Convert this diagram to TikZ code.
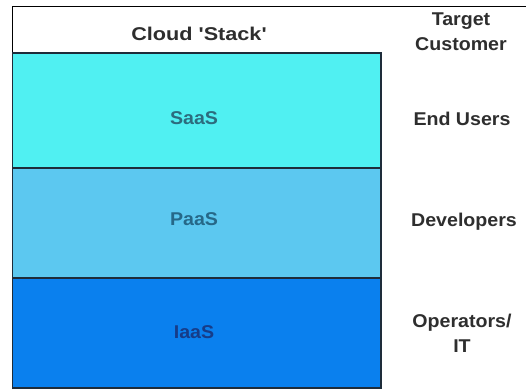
\documentclass[tikz,border=0pt]{standalone}
\usepackage{fontspec}
\usepackage{graphicx}
\setmainfont{Liberation Sans}
\definecolor{saasfill}{HTML}{50F0F2}
\definecolor{paasfill}{HTML}{5CC8F0}
\definecolor{iaasfill}{HTML}{0A80EE}
\definecolor{saastext}{HTML}{2C6C7E}
\definecolor{paastext}{HTML}{266888}
\definecolor{iaastext}{HTML}{163C88}
\definecolor{headtext}{HTML}{2E2E2E}
\definecolor{bandline}{HTML}{1E2C3A}
\newcommand{\widetxt}[2][1.06]{\scalebox{#1}[1]{#2}}
\begin{document}
\begin{tikzpicture}[x=1pt,y=-1pt,
  lbl/.style={anchor=base,inner sep=0pt,font=\fontsize{18.5}{22}\selectfont\bfseries,text=headtext},
  bandtxt/.style={anchor=base,inner sep=0pt,font=\fontsize{18.5}{22}\selectfont\bfseries},
  band/.style={draw=bandline,line width=1.8pt}]
\useasboundingbox (0,0) rectangle (526,389);
\fill[white] (0,0) rectangle (526,389);
% outer frame
\draw[black,line width=1.4pt] (12.5,389) -- (12.5,6.5) -- (526,6.5);
% bands
\fill[saasfill] (12.5,53) rectangle (381,168);
\fill[paasfill] (12.5,168) rectangle (381,278);
\fill[iaasfill] (12.5,278) rectangle (381,388);
\draw[band] (12.5,53) rectangle (381,388);
\draw[band] (12.5,168) -- (381,168);
\draw[band] (12.5,278) -- (381,278);
% texts
\node[lbl] (head) at (199,40) {\widetxt[1.17]{Cloud \textquotesingle Stack\textquotesingle}};
\node[lbl] (tgt1) at (461,25) {\widetxt{Target}};
\node[lbl] (tgt2) at (461,50) {\widetxt{Customer}};
\node[bandtxt,text=saastext] (saas) at (194,124) {\widetxt{SaaS}};
\node[bandtxt,text=paastext] (paas) at (194,225) {\widetxt{PaaS}};
\node[bandtxt,text=iaastext] (iaas) at (194,338) {\widetxt{IaaS}};
\node[lbl] (eu) at (462,125) {\widetxt{End Users}};
\node[lbl] (dev) at (464,226) {\widetxt{Developers}};
\node[lbl] (op1) at (462,327) {\widetxt{Operators/}};
\node[lbl] (op2) at (462,352) {\widetxt{IT}};
\end{tikzpicture}
\end{document}
